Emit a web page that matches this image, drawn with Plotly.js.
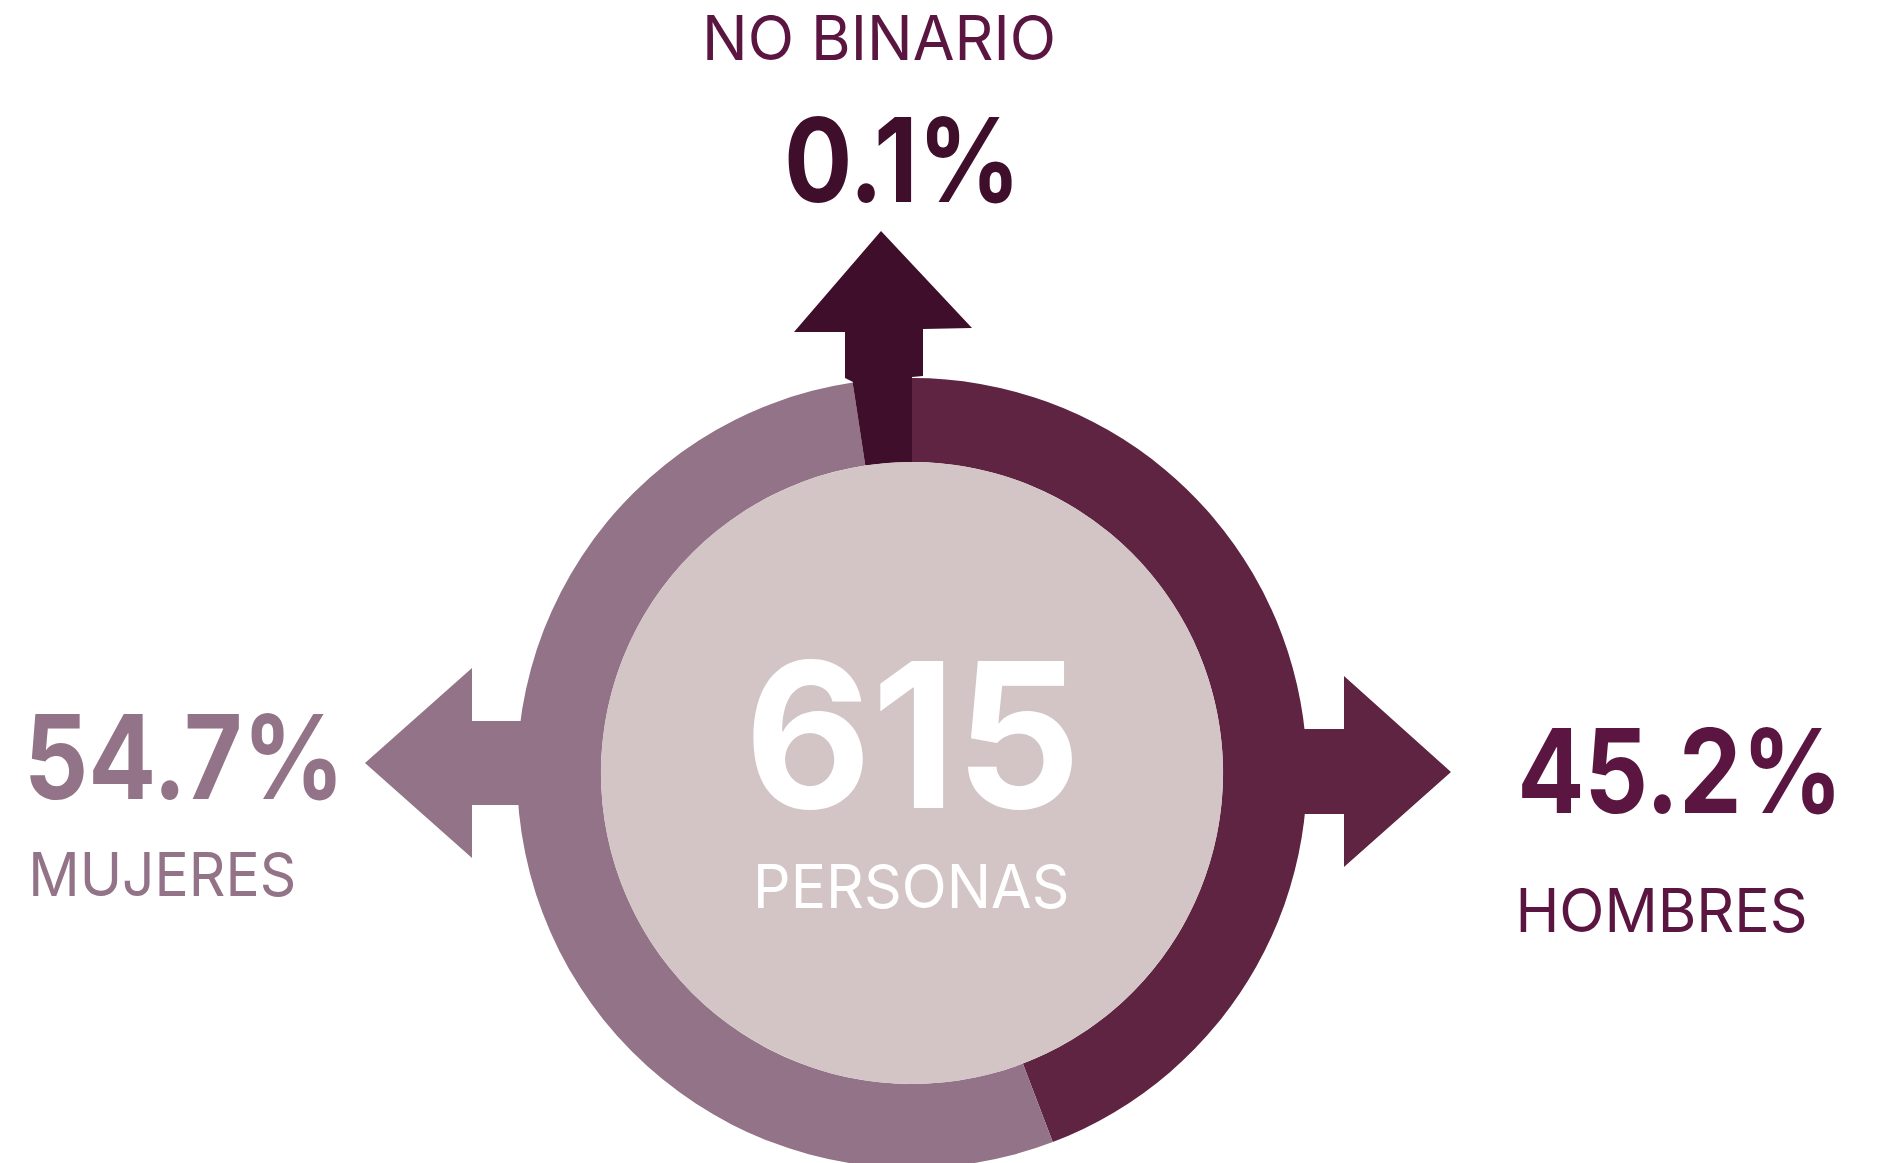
<!DOCTYPE html>
<html>
<head>
<meta charset="utf-8">
<script src="https://cdn.plot.ly/plotly-3.0.1.min.js"></script>
<style>
  html, body { margin: 0; padding: 0; background: #ffffff; }
  #wrap { width: 1879px; height: 1163px; overflow: hidden; position: relative; }
  #chart { width: 1879px; height: 1173px; }
</style>
</head>
<body>
<div id="wrap"><div id="chart"></div></div>
<script>
// ---- data ----
const categories = ['Hombres', 'Mujeres', 'No binario'];
const categoryLabels = ['HOMBRES', 'MUJERES', 'NO BINARIO'];
const percentLabels = [45.2, 54.7, 0.1];       // printed percentages
const drawnShare = [44.2, 53.4, 2.4];          // slice sizes as drawn in the ring
const totalPersons = 615;
const totalLabel = 'PERSONAS';

// ---- styles ----
const sliceColors = ['#5e2441', '#937387', '#3f0e2b'];
const textColors  = ['#5a1540', '#937387', '#3f0e2b'];
const innerColor = '#d3c4c5';
const FAMILY = 'Inter';

const W = 1879, H = 1173;
const px = x => x / W;
const py = y => 1 - y / H;
const path = pts => 'M ' + pts.map(p => px(p[0]).toFixed(5) + ',' + py(p[1]).toFixed(5)).join(' L ') + ' Z';

// ring geometry (pixels)
const cx = 912, cy = 773, rOut = 395, rIn = 311;

const ring = {
  type: 'pie',
  values: drawnShare,
  labels: categories,
  sort: false,
  direction: 'clockwise',
  rotation: 0,
  hole: rIn / rOut,
  textinfo: 'none',
  hoverinfo: 'skip',
  showlegend: false,
  marker: { colors: sliceColors, line: { width: 0 } },
  domain: { x: [px(cx - rOut), px(cx + rOut)], y: [py(cy + rOut), py(cy - rOut)] }
};

const inner = {
  type: 'pie',
  values: [totalPersons],
  labels: ['Total'],
  sort: false,
  textinfo: 'none',
  hoverinfo: 'skip',
  showlegend: false,
  marker: { colors: [innerColor], line: { width: 0 } },
  domain: { x: [px(cx - rIn), px(cx + rIn)], y: [py(cy + rIn), py(cy - rIn)] }
};

const arrows = [
  { color: sliceColors[1], pts: [[365,763],[472,668],[472,721],[540,721],[540,805],[472,805],[472,858]] },
  { color: sliceColors[0], pts: [[1451,772],[1344,676],[1344,729],[1285,729],[1285,814],[1344,814],[1344,867]] },
  { color: sliceColors[2], pts: [[912,400],[912,377],[923,376],[923,329],[972,328],[881,231],[794,332],[845,332],[845,378],[853,382],[856,400]] }
];

const shapes = arrows.map(a => ({
  type: 'path', xref: 'paper', yref: 'paper', path: path(a.pts),
  fillcolor: a.color, line: { width: 0 }, layer: 'above'
}));

const fmt = v => v.toFixed(1) + '%';

// text blocks: ink left/right edge and cap-centre (pixels), font size, weight, colour
const texts = [
  { text: categoryLabels[2],          x0: 707,  x1: 1053, yc: 37.5,  size: 62,  weight: 400, color: textColors[0] },
  { text: fmt(percentLabels[2]),      x0: 788,  x1: 1012, yc: 159.5, size: 117, weight: 700, color: textColors[2] },
  { text: fmt(percentLabels[1]),      x0: 30,   x1: 336,  yc: 756,   size: 117, weight: 700, color: textColors[1] },
  { text: categoryLabels[1],          x0: 33,   x1: 294,  yc: 873.5, size: 60,  weight: 400, color: textColors[1] },
  { text: fmt(percentLabels[0]),      x0: 1522, x1: 1835, yc: 770.5, size: 117, weight: 700, color: textColors[0] },
  { text: categoryLabels[0],          x0: 1520, x1: 1805, yc: 910,   size: 60,  weight: 400, color: textColors[0] },
  { text: String(totalPersons),       x0: 753,  x1: 1072, yc: 734.5, size: 202, weight: 700, color: '#ffffff' },
  { text: totalLabel,                 x0: 758,  x1: 1067, yc: 885.5, size: 60,  weight: 400, color: '#ffffff' }
];

// measure ink extents with canvas so each text can be fitted to its box
const ctx = document.createElement('canvas').getContext('2d');
texts.forEach(t => {
  ctx.font = t.weight + ' ' + t.size + 'px ' + FAMILY;
  const m = ctx.measureText(t.text);
  const inkL = -m.actualBoundingBoxLeft, inkR = m.actualBoundingBoxRight;
  t.scale = (t.x1 - t.x0) / (inkR - inkL);
  // centre of the ink box; glyphs are squeezed horizontally about this centre
  t.cx = (t.x0 + t.x1) / 2;
  t.inkShift = (m.width / 2 - (inkL + inkR) / 2); // advance-centre minus ink-centre (unscaled)
});

const annotations = texts.map(t => ({
  xref: 'paper', yref: 'paper', showarrow: false,
  x: px(t.cx + t.inkShift), y: py(t.yc), xanchor: 'center', yanchor: 'middle', align: 'center',
  text: t.text,
  font: { family: FAMILY + ', "Open Sans", sans-serif', size: t.size, color: t.color, weight: t.weight }
}));

const layout = {
  width: W, height: H,
  margin: { l: 0, r: 0, t: 0, b: 0, pad: 0 },
  paper_bgcolor: '#ffffff',
  plot_bgcolor: '#ffffff',
  showlegend: false,
  shapes: shapes,
  annotations: annotations
};

Plotly.newPlot('chart', [ring, inner], layout, { staticPlot: true, displayModeBar: false }).then(gd => {
  gd.querySelectorAll('g.annotation').forEach(g => {
    const i = +g.getAttribute('data-index');
    const t = texts[i];
    const el = g.querySelector('text.annotation-text');
    if (!t || !el) return;
    const bb = el.getBBox();
    // ink centre in the text's local coordinates
    const c = bb.x + bb.width / 2 - t.inkShift;
    const s = t.scale;
    el.setAttribute('transform', 'matrix(' + s.toFixed(4) + ',0,0,1,' + (c * (1 - s)).toFixed(2) + ',0)');
  });
});
</script>
</body>
</html>
